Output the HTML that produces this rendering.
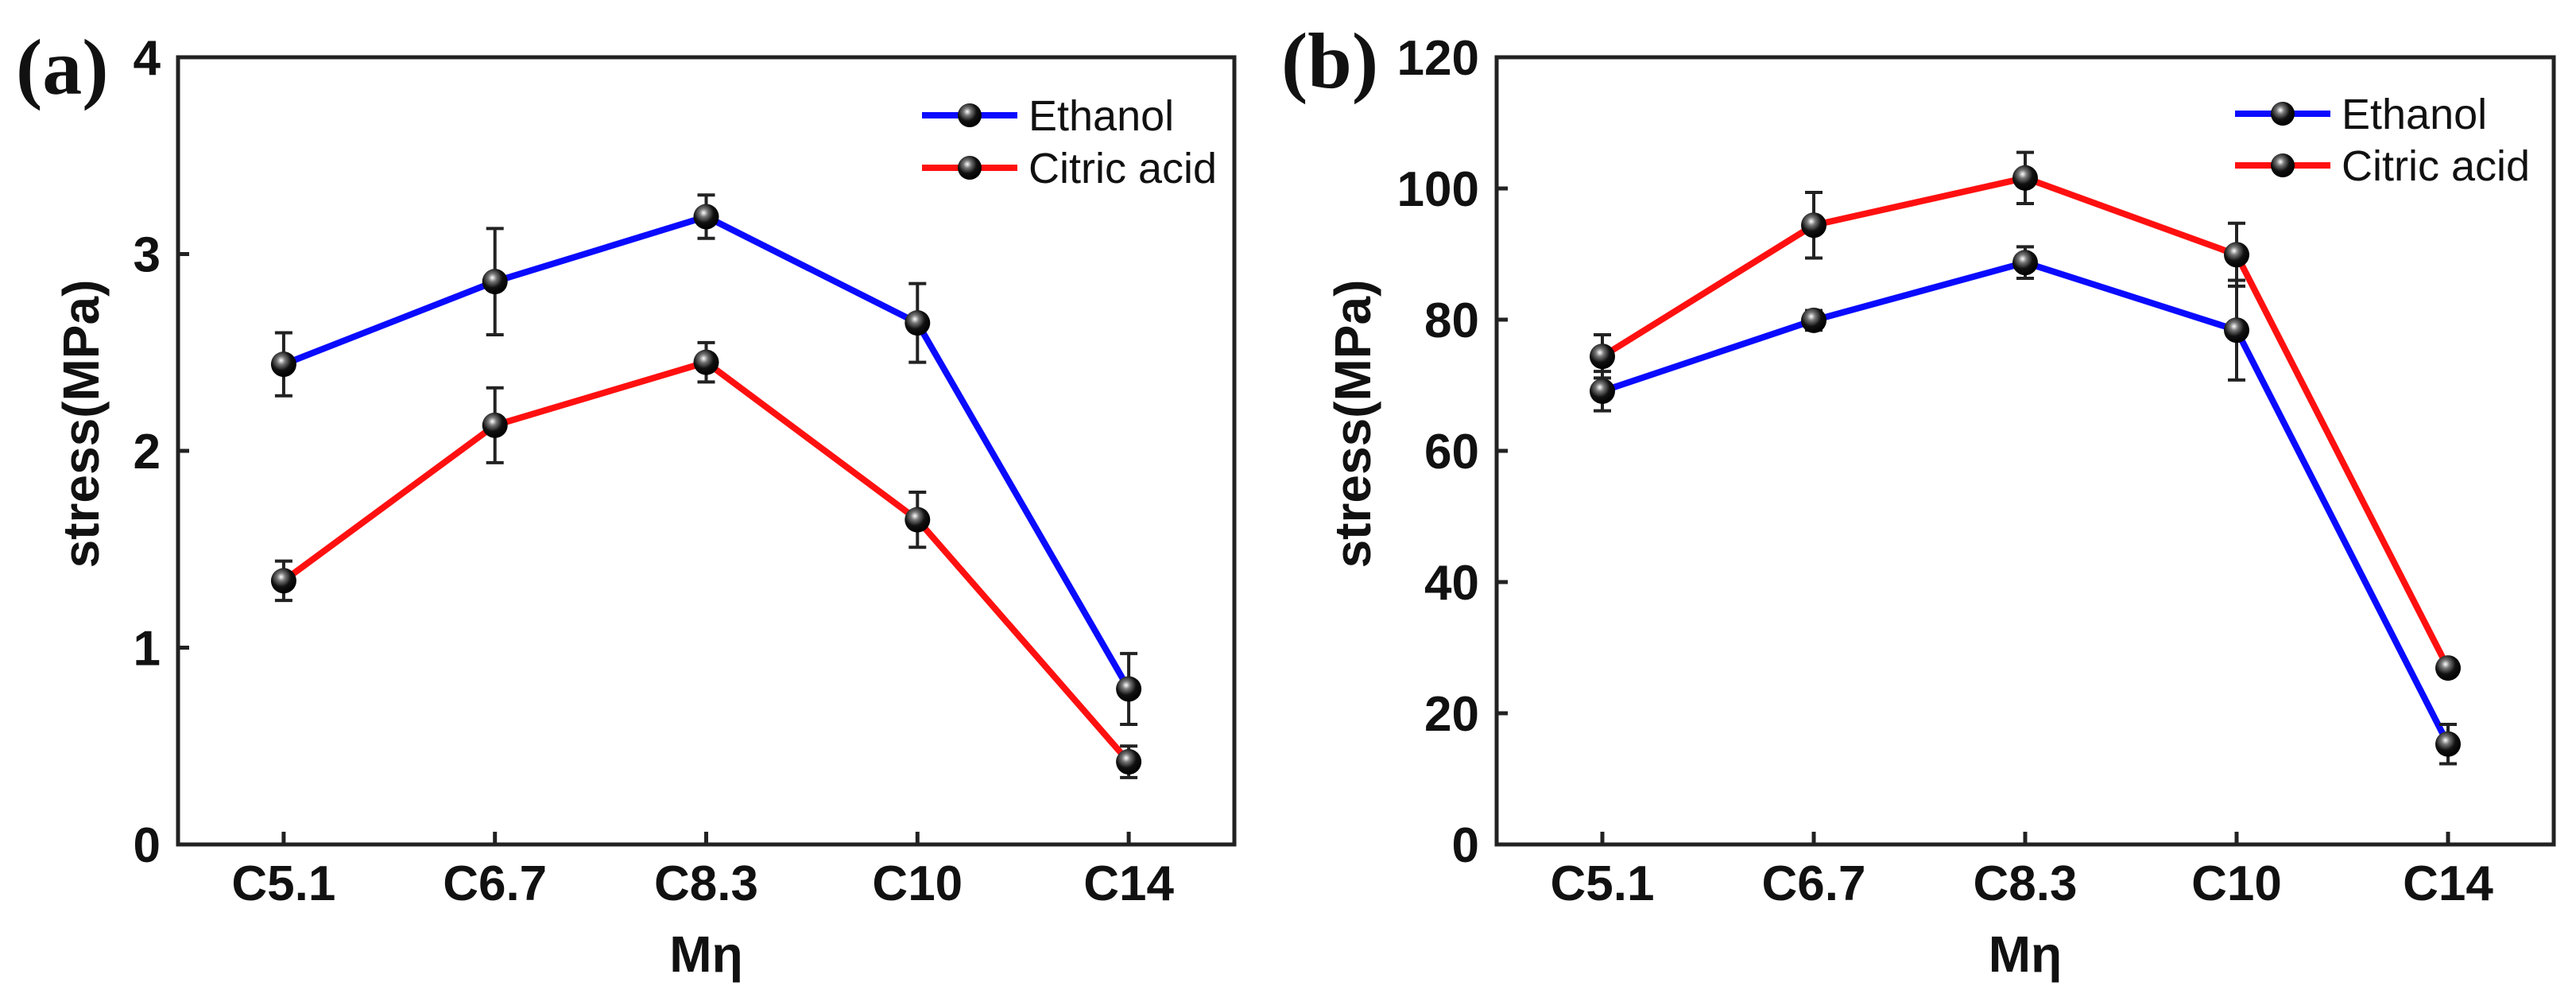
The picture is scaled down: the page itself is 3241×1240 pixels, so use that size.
<!DOCTYPE html>
<html><head><meta charset="utf-8">
<style>
html,body{margin:0;padding:0;background:#fff;}
svg{display:block;}
text{font-family:"Liberation Sans",Arial,sans-serif;font-weight:bold;fill:#111;}
.serif{font-family:"Liberation Serif",serif;}
</style></head>
<body>
<svg id="chart" width="3241" height="1240" viewBox="0 0 3241 1240" xmlns="http://www.w3.org/2000/svg">
<defs>
<radialGradient id="ball" cx="0.4" cy="0.35" r="0.65">
<stop offset="0" stop-color="#fff"/><stop offset="0.25" stop-color="#777"/><stop offset="0.6" stop-color="#111"/><stop offset="1" stop-color="#000"/>
</radialGradient>
</defs>
</svg>
<script>
const categories = ["C5.1","C6.7","C8.3","C10","C14"];
const seriesNames = ["Ethanol","Citric acid"];
const aEthanol = [2.44,2.86,3.19,2.65,0.79];
const aEthanolErr = [0.16,0.27,0.11,0.20,0.18];
const aCitric = [1.34,2.13,2.45,1.65,0.42];
const aCitricErr = [0.10,0.19,0.10,0.14,0.08];
const aTicks = [0,1,2,3,4];
const bEthanol = [69.1,79.9,88.7,78.4,15.3];
const bEthanolErr = [3.0,1.5,2.4,7.6,3.0];
const bCitric = [74.4,94.4,101.6,89.9,26.9];
const bCitricErr = [3.3,5.0,3.9,4.8,1.0];
const bTicks = [0,20,40,60,80,100,120];

const NS="http://www.w3.org/2000/svg";
const svg=document.getElementById('chart');
function mk(tag,attrs,parent){const e=document.createElementNS(NS,tag);for(const k in attrs)e.setAttribute(k,attrs[k]);(parent||svg).appendChild(e);return e;}

function panel(cfg){
  const g=mk('g',{});
  
  
  const L=cfg.left,R=cfg.right,T=72,B=1062;
  const n=categories.length, slot=(R-L)/n;
  const xs=i=>L+slot*(i+0.5);
  const ys=v=>B-(v-cfg.ymin)/(cfg.ymax-cfg.ymin)*(B-T);
  const fr=mk('rect',{x:L,y:T,width:R-L,height:B-T,fill:'none',stroke:'#222','stroke-width':5},g);
  
  
  cfg.ticks.forEach(t=>{
    const y=ys(t);
    const tk=mk('line',{x1:L,x2:L+14,y1:y,y2:y,stroke:'#222','stroke-width':5},g);
    
    
    const tx=mk('text',{x:L-22,y:y+22,'text-anchor':'end','font-size':62},g);
    tx.textContent=t;
    
    
  });
  categories.forEach((c,i)=>{
    const x=xs(i);
    const tk=mk('line',{x1:x,x2:x,y1:B,y2:B-16,stroke:'#222','stroke-width':5},g);
    
    
    const tx=mk('text',{x:x,y:1132,'text-anchor':'middle','font-size':62},g);
    tx.textContent=c;
    
    
  });
  const xt=mk('text',{x:xs(2),y:1222,'text-anchor':'middle','font-size':64},g);
  xt.textContent='Mη';
  
  
  const yt=mk('text',{x:0,y:0,'text-anchor':'middle','font-size':64,transform:`translate(${cfg.ytx},${533}) rotate(-90)`},g);
  yt.textContent='stress(MPa)';
  
  
  const pl=mk('text',{x:cfg.plx,y:cfg.ply,'font-size':100,class:'serif'},g);
  pl.textContent=cfg.label;
  
  
  const series=[{v:cfg.e,err:cfg.ee,col:'#0a0aff',nm:'ethanol'},{v:cfg.c,err:cfg.ce,col:'#ff1010',nm:'citric-acid'}];
  series.forEach(s=>{
    const pts=s.v.map((v,i)=>xs(i)+','+ys(v)).join(' ');
    const ln=mk('polyline',{points:pts,fill:'none',stroke:s.col,'stroke-width':8,'stroke-linejoin':'round'},g);
    
    
  });
  series.forEach(s=>{
    s.v.forEach((v,i)=>{
      const x=xs(i),y1=ys(v+s.err[i]),y2=ys(v-s.err[i]);
      const eb=mk('path',{d:`M${x},${y1}V${y2}M${x-11},${y1}H${x+11}M${x-11},${y2}H${x+11}`,stroke:'#222','stroke-width':4,fill:'none'},g);
      
      
      const m=mk('circle',{cx:x,cy:ys(v),r:16,fill:'url(#ball)'},g);
      
      
    });
  });
  series.forEach((s,k)=>{
    const y=cfg.legY[k];
    const lg=mk('g',{},g);
    
    
    mk('line',{x1:cfg.legX,x2:cfg.legX+120,y1:y,y2:y,stroke:s.col,'stroke-width':8},lg);
    mk('circle',{cx:cfg.legX+60,cy:y,r:15,fill:'url(#ball)'},lg);
    const t=mk('text',{x:cfg.legX+134,y:y+19,'font-size':54},lg);
    t.style.fontWeight='normal';
    t.textContent=seriesNames[k];
  });
}
panel({name:'panel-a',left:224,right:1553,ymin:0,ymax:4,ticks:aTicks,e:aEthanol,ee:aEthanolErr,c:aCitric,ce:aCitricErr,ytx:124,plx:20,ply:118,label:'(a)',legX:1160,legY:[145,211]});
panel({name:'panel-b',left:1883,right:3213,ymin:0,ymax:120,ticks:bTicks,e:bEthanol,ee:bEthanolErr,c:bCitric,ce:bCitricErr,ytx:1724,plx:1612,ply:110,label:'(b)',legX:2812,legY:[143,208]});
</script>
</body></html>
